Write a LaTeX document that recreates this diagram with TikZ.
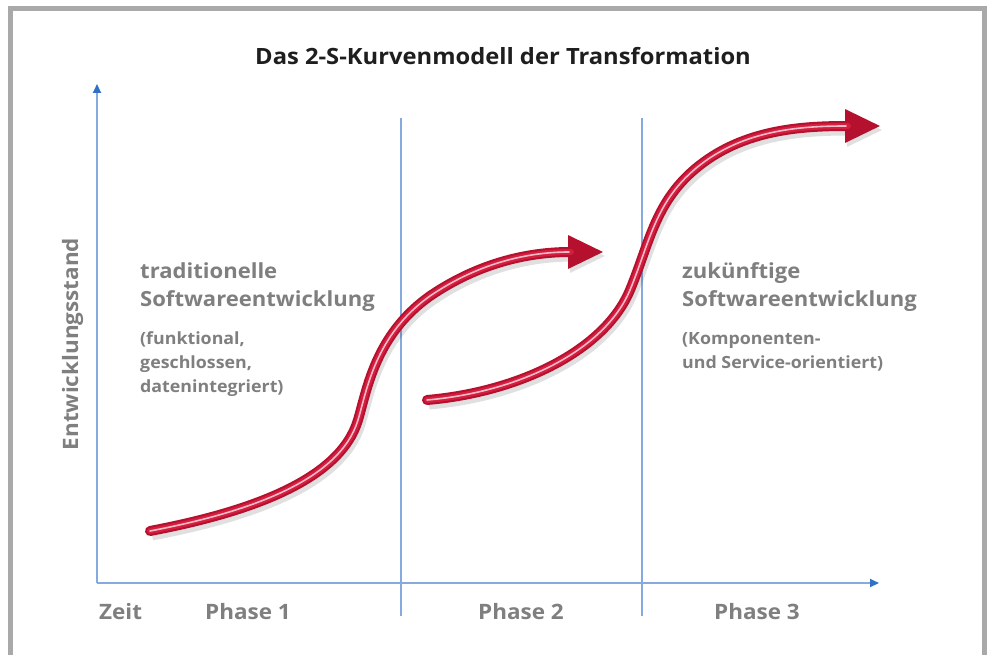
\documentclass[tikz,border=0pt]{standalone}
\usepackage{fontspec}
\setmainfont{Open Sans}[FakeStretch=1.06]
\usetikzlibrary{arrows.meta}
\definecolor{framegray}{HTML}{A9A9A9}
\definecolor{axislight}{HTML}{86AAE0}
\definecolor{axisdark}{HTML}{2F72C4}
\definecolor{labelgray}{HTML}{7F7F7F}
\definecolor{titleblack}{HTML}{1E1E1E}
\definecolor{tubedark}{HTML}{B5102E}
\definecolor{tubered}{HTML}{D41E40}
\definecolor{tubehi}{HTML}{F5BAC6}
\tikzset{
  axis/.style={draw=axislight, line width=2pt, -{Triangle[length=9pt,width=8pt,color=axisdark]}},
  phaseline/.style={draw=axislight, line width=2pt},
  tube/.style={draw=tubedark, line width=10pt, line cap=round,
    -{Triangle[length=36pt,width=31pt]},
    preaction={draw=black, opacity=.12, line width=11pt, transform canvas={shift={(2pt,-4pt)}}},
    postaction={draw=tubered, line width=6pt, shorten >=33pt, -},
    postaction={draw=tubehi, line width=1.6pt, shorten >=35pt, -}},
  bigtxt/.style={font=\fontsize{20.8}{24}\selectfont\bfseries, text=labelgray, anchor=base west, inner sep=0pt},
  smalltxt/.style={font=\fontsize{16.8}{18}\selectfont\bfseries, text=labelgray, anchor=base west, inner sep=0pt},
  axtxt/.style={font=\fontsize{21.2}{24}\selectfont\bfseries, text=labelgray, anchor=base, inner sep=0pt}
}
\begin{document}
\begin{tikzpicture}[x=1pt,y=-1pt]
\useasboundingbox (0,0) rectangle (990,655);
\fill[white] (0,0) rectangle (990,655);
\draw[framegray, line width=5pt] (10.5,660) -- (10.5,8.5) -- (984.5,8.5) -- (984.5,660);

\node[font=\fontsize{22.4}{26}\selectfont\bfseries, text=titleblack, anchor=base, inner sep=0pt] (title) at (503,65) {Das 2-S-Kurvenmodell der Transformation};

% axes
\coordinate (origin) at (97,583);
\coordinate (ytip) at (97,84);
\coordinate (xtip) at (879,583);
\draw[axis] (origin) -- (ytip);
\draw[axis] (origin) -- (xtip);
\coordinate (l1top) at (401,118); \coordinate (l1bot) at (401,616);
\coordinate (l2top) at (642,118); \coordinate (l2bot) at (642,616);
\draw[phaseline] (l1top) -- (l1bot);
\draw[phaseline] (l2top) -- (l2bot);

% axis labels
\node[axtxt, anchor=base west] (zeit) at (99,619) {Zeit};
\node[axtxt] (p1) at (248,619) {Phase 1};
\node[axtxt] (p2) at (521,619) {Phase 2};
\node[axtxt] (p3) at (757,619) {Phase 3};
\node[axtxt, rotate=90] (ystand) at (78,344) {Entwicklungsstand};

% texts
\node[bigtxt] (t1) at (140,278) {traditionelle};
\node[bigtxt] (t2) at (140,306) {Softwareentwicklung};
\node[smalltxt] (t3) at (140,344) {(funktional,};
\node[smalltxt] (t4) at (140,368) {geschlossen,};
\node[smalltxt] (t5) at (140,392) {datenintegriert)};
\node[bigtxt] (z1) at (682,278) {zukünftige};
\node[bigtxt] (z2) at (682,306) {Softwareentwicklung};
\node[smalltxt] (z3) at (682,344) {(Komponenten-};
\node[smalltxt] (z4) at (682,368) {und Service-orientiert)};

% S-curves
\coordinate (c1s) at (150,531);
\coordinate (c1a) at (358,420);
\coordinate (c1b) at (430,296);
\coordinate (c1e) at (604,252);
\draw[tube] (c1s) .. controls (250,512) and (340,480) .. (c1a)
  .. controls (367,390) and (375,335) .. (c1b)
  .. controls (480,262) and (530,252) .. (c1e);

\coordinate (c2s) at (427,400);
\coordinate (c2a) at (630,290);
\coordinate (c2b) at (700,165);
\coordinate (c2e) at (881,126);
\draw[tube] (c2s) .. controls (520,392) and (605,350) .. (c2a)
  .. controls (650,242) and (655,200) .. (c2b)
  .. controls (745,130) and (800,126) .. (c2e);
\end{tikzpicture}
\end{document}
